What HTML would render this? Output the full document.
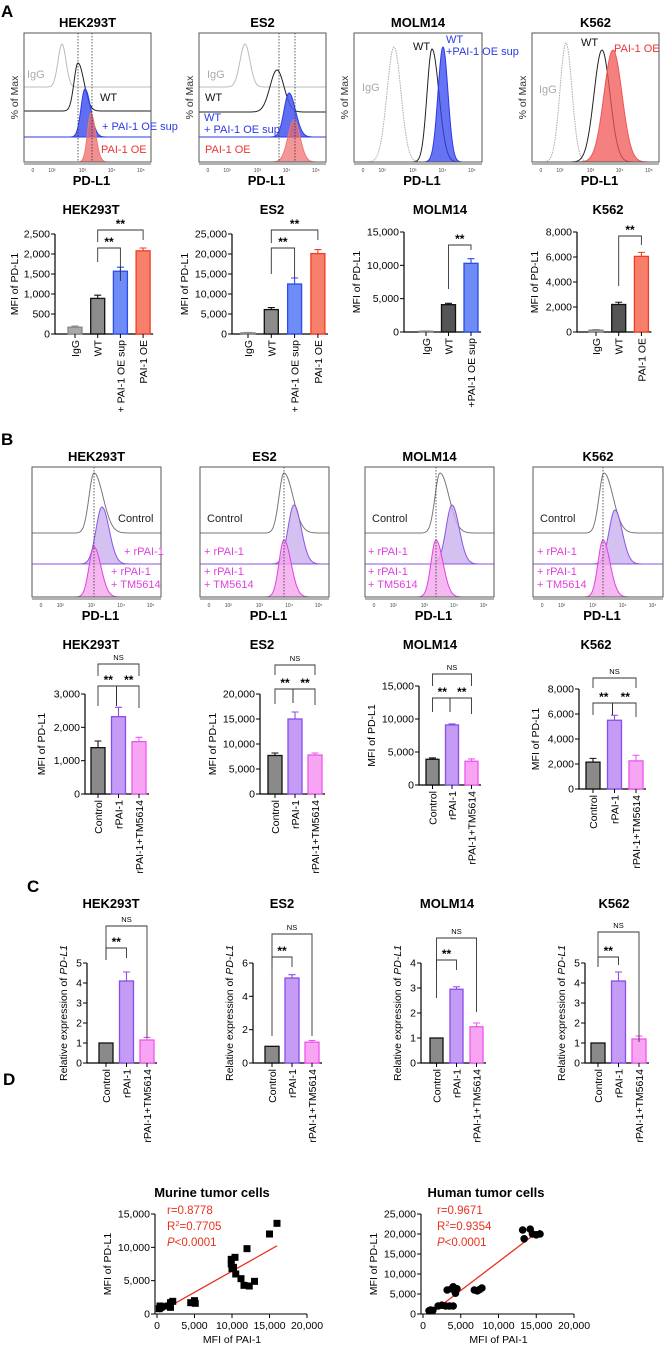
<!DOCTYPE html>
<html><head><meta charset="utf-8"><style>
html,body{margin:0;padding:0;background:#fff}
svg{display:block;font-family:"Liberation Sans",Arial,sans-serif}
</style></head><body>
<svg id="fig" width="666" height="1348" viewBox="0 0 666 1348" xmlns="http://www.w3.org/2000/svg">
<text x="1" y="17" font-size="17" font-weight="bold">A</text>
<text x="1" y="445" font-size="17" font-weight="bold">B</text>
<text x="27" y="892" font-size="17" font-weight="bold">C</text>
<text x="3" y="1085" font-size="17" font-weight="bold">D</text>
</svg>
<script>
// ---------- Panel A bar data ----------
const aHekCats=['IgG','WT','+ PAI-1 OE sup','PAI-1 OE'];
const aHekVals=[170,890,1570,2080];
const aHekErr=[30,80,100,70];
const aHekTicks=[0,500,1000,1500,2000,2500];
const aEs2Cats=['IgG','WT','+ PAI-1 OE sup','PAI-1 OE'];
const aEs2Vals=[300,6100,12500,20100];
const aEs2Err=[100,500,1500,1000];
const aEs2Ticks=[0,5000,10000,15000,20000,25000];
const aMolCats=['IgG','WT','+PAI-1 OE sup'];
const aMolVals=[120,4100,10300];
const aMolErr=[50,200,700];
const aMolTicks=[0,5000,10000,15000];
const aK5Cats=['IgG','WT','PAI-1 OE'];
const aK5Vals=[150,2200,6050];
const aK5Err=[50,180,320];
const aK5Ticks=[0,2000,4000,6000,8000];
// ---------- Panel B bar data ----------
const bCats=['Control','rPAI-1','rPAI-1+TM5614'];
const bHekVals=[1390,2320,1570];
const bHekErr=[200,280,130];
const bHekTicks=[0,1000,2000,3000];
const bEs2Vals=[7700,15000,7800];
const bEs2Err=[500,1400,400];
const bEs2Ticks=[0,5000,10000,15000,20000];
const bMolVals=[3900,9100,3600];
const bMolErr=[200,150,350];
const bMolTicks=[0,5000,10000,15000];
const bK5Vals=[2150,5500,2250];
const bK5Err=[300,400,450];
const bK5Ticks=[0,2000,4000,6000,8000];
// ---------- Panel C bar data ----------
const cHekVals=[1,4.1,1.15];
const cHekErr=[0,0.45,0.13];
const cHekTicks=[0,1,2,3,4,5];
const cEs2Vals=[1,5.1,1.25];
const cEs2Err=[0,0.2,0.1];
const cEs2Ticks=[0,2,4,6];
const cMolVals=[1,2.95,1.45];
const cMolErr=[0,0.1,0.15];
const cMolTicks=[0,1,2,3,4];
const cK5Vals=[1,4.1,1.2];
const cK5Err=[0,0.45,0.15];
const cK5Ticks=[0,1,2,3,4,5];
// ---------- Panel D scatter data ----------
const murX=[300,500,600,400,1500,1800,1800,2100,4500,5000,5100,9900,9900,10000,10200,10400,10500,11200,11600,12000,12300,13000,15000,16000];
const murY=[800,1000,1100,1200,1200,1000,1700,1900,1700,2000,1600,8200,7500,6800,7000,8500,6000,5300,4300,9800,4200,4900,12000,13600];
const humX=[800,1000,1300,2000,2500,3000,3200,3500,3800,4000,4200,4300,4500,4000,6800,7200,7500,7800,13200,13400,14200,14500,15000,15500];
const humY=[800,1000,900,2000,2200,2000,6000,2000,6300,6800,5800,5200,6300,2000,6000,5800,6100,6500,21000,18800,21200,20000,19800,20000];
const dXTicks=[0,5000,10000,15000,20000];
const murYTicks=[0,5000,10000,15000];
const humYTicks=[0,5000,10000,15000,20000,25000];

const NS='http://www.w3.org/2000/svg';
const svg=document.getElementById('fig');
function mk(tag,attrs,parent){const e=document.createElementNS(NS,tag);for(const k in attrs)e.setAttribute(k,attrs[k]);(parent||svg).appendChild(e);return e;}
function fmt(v){return v>=1000?v.toLocaleString('en-US'):String(v);}

const GREYA={f:'#a9a9a9',s:'#888'},WTA={f:'#8c8c8c',s:'#111'},WTD={f:'#555',s:'#111'},BLUE={f:'#6d8cf5',s:'#2d4ce8'},RED={f:'#f7806c',s:'#f23c22'};
const CTRL={f:'#8a8a8a',s:'#111'},RP={f:'#c49cf5',s:'#8a4de6'},TM={f:'#f7a5f2',s:'#ee55ee'};

function barChart(c){
  const g=mk('g',{});
  
  
  const maxT=c.ticks[c.ticks.length-1];
  const y=v=>c.y0-v/maxT*(c.y0-c.yTop);
  const t=mk('text',{x:c.titleX,y:c.titleY,'font-size':13,'font-weight':'bold','text-anchor':'middle'},g);
  t.textContent=c.title;
  
  
  const last=c.bx0+(c.vals.length-1)*c.step+c.bw;
  const ax=mk('path',{d:`M${c.ax},${c.yTop}V${c.y0}H${last+3}`,stroke:'#000','stroke-width':1.2,fill:'none'},g);
  
  
  c.ticks.forEach(v=>{
    mk('line',{x1:c.ax-4,x2:c.ax,y1:y(v),y2:y(v),stroke:'#000','stroke-width':1},g);
    const tl=mk('text',{x:c.ax-5,y:y(v)+3.5,'font-size':10.5,'text-anchor':'end'},g);
    tl.textContent=fmt(v);
    
    
  });
  const yl=mk('text',{transform:`translate(${c.ax-c.ylOff},${(c.y0+c.yTop)/2}) rotate(-90)`,'font-size':10.5,'text-anchor':'middle'},g);
  if(c.italic){yl.innerHTML='Relative expression of <tspan font-style="italic">PD-L1</tspan>';}else{yl.textContent='MFI of  PD-L1';}
  
  
  c.vals.forEach((v,i)=>{
    const x=c.bx0+i*c.step,col=c.cols[i];
    const r=mk('rect',{x:x,y:y(v),width:c.bw,height:c.y0-y(v),fill:col.f,stroke:col.s,'stroke-width':1.3},g);
    
    
    if(c.errs[i]>0){
      const cx=x+c.bw/2;
      const e=mk('path',{d:`M${cx},${y(v)}V${y(v+c.errs[i])}M${cx-3.5},${y(v+c.errs[i])}H${cx+3.5}`,stroke:col.s,'stroke-width':1.1,fill:'none'},g);
      
      
    }
    mk('line',{x1:x+c.bw/2,x2:x+c.bw/2,y1:c.y0,y2:c.y0+4,stroke:'#000'},g);
    const xl=mk('text',{transform:`translate(${x+c.bw/2+4},${c.y0+6}) rotate(-90)`,'font-size':10.5,'text-anchor':'end'},g);
    xl.textContent=c.cats[i];
    
    
  });
  (c.br||[]).forEach(b=>{
    const [i,j,yy,lab,d1,d2]=b;
    const x1=c.bx0+i*c.step+c.bw/2,x2=c.bx0+j*c.step+c.bw/2;
    const p=mk('path',{d:`M${x1+(b[6]||0)},${yy+d1}V${yy}H${x2-(b[7]||0)}V${yy+d2}`,stroke:'#333','stroke-width':0.9,fill:'none'},g);
    
    
    const st=mk('text',{x:(x1+x2)/2,y:lab==='NS'?yy-4:yy-2,'font-size':lab==='NS'?7.5:12,'font-weight':lab==='NS'?'normal':'bold','text-anchor':'middle'},g);
    st.textContent=lab;
    
    
  });
}

// Panel A bars
barChart({name:'bar-chart-a-hek293t',title:'HEK293T',titleX:91,titleY:214,ax:55,y0:334,yTop:234,ticks:aHekTicks,bx0:68,step:22.7,bw:14,cats:aHekCats,vals:aHekVals,errs:aHekErr,cols:[GREYA,WTA,BLUE,RED],ylOff:37,
 br:[[1,2,248,'**',14,33],[1,3,230,'**',12,10]]});
barChart({name:'bar-chart-a-es2',title:'ES2',titleX:272,titleY:214,ax:232,y0:334,yTop:234,ticks:aEs2Ticks,bx0:241,step:23.3,bw:14,cats:aEs2Cats,vals:aEs2Vals,errs:aEs2Err,cols:[GREYA,WTA,BLUE,RED],ylOff:44,
 br:[[1,2,248,'**',26,30],[1,3,230,'**',13,10]]});
barChart({name:'bar-chart-a-molm14',title:'MOLM14',titleX:440,titleY:214,ax:404,y0:332,yTop:232,ticks:aMolTicks,bx0:419,step:22.5,bw:14,cats:aMolCats,vals:aMolVals,errs:aMolErr,cols:[GREYA,WTD,BLUE],ylOff:44,
 br:[[1,2,245,'**',44,5]]});
barChart({name:'bar-chart-a-k562',title:'K562',titleX:608,titleY:214,ax:577,y0:332,yTop:232,ticks:aK5Ticks,bx0:589,step:22.7,bw:14,cats:aK5Cats,vals:aK5Vals,errs:aK5Err,cols:[GREYA,WTD,RED],ylOff:39,
 br:[[1,2,236,'**',50,9]]});
// Panel B bars
barChart({name:'bar-chart-b-hek293t',title:'HEK293T',titleX:91,titleY:649,ax:85,y0:794,yTop:694,ticks:bHekTicks,bx0:91,step:20.5,bw:14,cats:bCats,vals:bHekVals,errs:bHekErr,cols:[CTRL,RP,TM],ylOff:40,
 br:[[0,2,664,'NS',12,12],[0,1,686,'**',20,20,0,2],[1,2,686,'**',20,22,-2,0]]});
barChart({name:'bar-chart-b-es2',title:'ES2',titleX:262,titleY:649,ax:260,y0:794,yTop:694,ticks:bEs2Ticks,bx0:268,step:20,bw:14,cats:bCats,vals:bEs2Vals,errs:bEs2Err,cols:[CTRL,RP,TM],ylOff:44,
 br:[[0,2,665,'NS',10,10],[0,1,689,'**',15,14,0,2],[1,2,689,'**',14,16,-2,0]]});
barChart({name:'bar-chart-b-molm14',title:'MOLM14',titleX:430,titleY:649,ax:419,y0:785,yTop:686,ticks:bMolTicks,bx0:426,step:19.5,bw:13,cats:bCats,vals:bMolVals,errs:bMolErr,cols:[CTRL,RP,TM],ylOff:44,
 br:[[0,2,674,'NS',12,12],[0,1,698,'**',14,14,0,2],[1,2,698,'**',14,16,-2,0]]});
barChart({name:'bar-chart-b-k562',title:'K562',titleX:596,titleY:649,ax:579,y0:789,yTop:689,ticks:bK5Ticks,bx0:586,step:21.5,bw:14,cats:bCats,vals:bK5Vals,errs:bK5Err,cols:[CTRL,RP,TM],ylOff:40,
 br:[[0,2,678,'NS',10,10],[0,1,703,'**',12,12,0,2],[1,2,703,'**',12,14,-2,0]]});
// Panel C bars
barChart({name:'bar-chart-c-hek293t',title:'HEK293T',titleX:111,titleY:908,ax:87,y0:1063,yTop:963,ticks:cHekTicks,bx0:99,step:20.5,bw:14,cats:bCats,vals:cHekVals,errs:cHekErr,cols:[CTRL,RP,TM],ylOff:20,italic:true,
 br:[[0,2,926,'NS',34,112],[0,1,948,'**',12,10]]});
barChart({name:'bar-chart-c-es2',title:'ES2',titleX:282,titleY:908,ax:253,y0:1063,yTop:963,ticks:cEs2Ticks,bx0:265,step:20,bw:14,cats:bCats,vals:cEs2Vals,errs:cEs2Err,cols:[CTRL,RP,TM],ylOff:20,italic:true,
 br:[[0,2,934,'NS',102,102],[0,1,957,'**',12,10]]});
barChart({name:'bar-chart-c-molm14',title:'MOLM14',titleX:447,titleY:908,ax:421,y0:1063,yTop:963,ticks:cMolTicks,bx0:430,step:20,bw:13,cats:bCats,vals:cMolVals,errs:cMolErr,cols:[CTRL,RP,TM],ylOff:20,italic:true,
 br:[[0,2,938,'NS',60,74],[0,1,960,'**',10,10]]});
barChart({name:'bar-chart-c-k562',title:'K562',titleX:614,titleY:908,ax:585,y0:1063,yTop:963,ticks:cK5Ticks,bx0:591,step:20.5,bw:14,cats:bCats,vals:cK5Vals,errs:cK5Err,cols:[CTRL,RP,TM],ylOff:20,italic:true,
 br:[[0,2,932,'NS',34,110],[0,1,957,'**',10,8]]});

// ---------- Histograms ----------
function hist(h){
  const g=mk('g',{});
  
  
  const [x0,y0,x1,y1]=h.box;
  const t=mk('text',{x:(x0+x1)/2,y:y0-6,'font-size':13,'font-weight':'bold','text-anchor':'middle'},g);
  t.textContent=h.title;
  
  
  h.peaks.forEach(p=>{
    let d=`M${x0},${p.base}`;
    for(let x=x0;x<=x1;x+=0.5){
      const s=x<p.c?p.s:p.s*(p.k||1);
      d+=`L${x},${(p.base-(p.base-p.top)*Math.exp(-((x-p.c)**2)/(2*s*s))).toFixed(2)}`;
    }
    const pa=mk('path',{d:d+(p.fill?`L${x1},${p.base}Z`:''),fill:p.fill||'none','fill-opacity':p.op||1,stroke:p.col,'stroke-width':1,'stroke-dasharray':p.dash||'none'},g);
    
    
  });
  (h.vl||[]).forEach(x=>mk('line',{x1:x,x2:x,y1:y0,y2:y1,stroke:'#333','stroke-width':0.8,'stroke-dasharray':'1.5,1.5'},g));
  const b=mk('rect',{x:x0,y:y0,width:x1-x0,height:y1-y0,fill:'none',stroke:'#555','stroke-width':1},g);
  
  
  mk('line',{x1:x0,x2:x1,y1:y1+2,y2:y1+2,stroke:'#333','stroke-width':0.8},g);
  const tl=['0','10²','10³','10⁴','10⁵'],tp=[0.07,0.22,0.46,0.69,0.92];
  tl.forEach((s,i)=>{const tx=mk('text',{x:x0+tp[i]*(x1-x0),y:y1+10,'font-size':5,fill:'#444','text-anchor':'middle'},g);tx.textContent=s;});
  const xt=mk('text',{x:(x0+x1)/2+4,y:y1+23,'font-size':13,'font-weight':'bold','text-anchor':'middle'},g);
  xt.textContent='PD-L1';
  
  
  if(h.ylab){const yt=mk('text',{transform:`translate(${x0-6},${(y0+y1)/2}) rotate(-90)`,'font-size':10.5,fill:'#333','text-anchor':'middle'},g);yt.textContent='% of Max';
    
    }
  h.labels.forEach(l=>{const lt=mk('text',{x:l[0],y:l[1],'font-size':11,fill:l[3]},g);lt.textContent=l[2];
    
    });
}
const G='#bbb',K='#222',BL='#2a3ae8',RD='#ee3333',PU='#8a55dd',MG='#e040e0';
hist({name:'histogram-a-hek293t',title:'HEK293T',box:[24,33,151,162],ylab:1,vl:[78,92],peaks:[
 {base:87,c:62,s:4,top:44,col:G},{base:111,c:78,s:4,k:1.5,top:63,col:K},
 {base:137,c:85,s:4,k:1.4,top:89,col:BL,fill:'#4455ee',op:0.85},{base:162,c:91,s:3.5,k:1.3,top:113,col:'#ee7777',fill:'#f06a6a',op:0.75}],
 labels:[[27,78,'IgG','#aaa'],[100,101,'WT','#111'],[102,130,'+ PAI-1 OE sup',BL],[101,153,'PAI-1 OE',RD]]});
hist({name:'histogram-a-es2',title:'ES2',box:[199,33,326,162],ylab:1,vl:[279,295],peaks:[
 {base:87,c:245,s:5,top:44,col:G},{base:112,c:277,s:7,top:70,col:K},
 {base:137,c:289,s:5,k:1.3,top:93,col:BL,fill:'#4455ee',op:0.85},{base:162,c:294,s:6,top:120,col:'#ee7777',fill:'#f06a6a',op:0.7}],
 labels:[[207,78,'IgG','#aaa'],[205,101,'WT','#111'],[204,121,'WT',BL],[204,133,'+ PAI-1 OE sup',BL],[205,153,'PAI-1 OE',RD]]});
hist({name:'histogram-a-molm14',title:'MOLM14',box:[354,33,482,162],ylab:1,peaks:[
 {base:162,c:394,s:7,top:47,col:'#aaa',dash:'1.5,1'},{base:162,c:432,s:5,k:1.4,top:49,col:K},
 {base:162,c:443,s:5,top:47,col:BL,fill:'#3344ee',op:0.75}],
 labels:[[362,91,'IgG','#aaa'],[413,50,'WT','#111'],[446,43,'WT',BL],[446,55,'+PAI-1 OE sup',BL]]});
hist({name:'histogram-a-k562',title:'K562',box:[532,33,659,162],ylab:1,peaks:[
 {base:162,c:566,s:6,top:43,col:'#aaa',dash:'1.5,1'},{base:162,c:602,s:8,top:50,col:K},
 {base:162,c:613,s:9,top:50,col:'#ee5555',fill:'#f25555',op:0.75}],
 labels:[[539,93,'IgG','#aaa'],[581,46,'WT','#111'],[614,52,'PAI-1 OE',RD]]});
const bl=(x)=>[[x[0],522,'Control','#222'],[x[1],555,'+ rPAI-1',MG],[x[2],575,'+ rPAI-1',MG],[x[2],588,'+ TM5614',MG]];
[['histogram-b-hek293t','HEK293T',32,161,94,102,94,473,507,547,[118,124,111]],
 ['histogram-b-es2','ES2',200,329,284,294,284,473,505,540,[207,204,204]],
 ['histogram-b-molm14','MOLM14',365,494,440,452,436,473,505,540,[372,368,368]],
 ['histogram-b-k562','K562',533,663,604,615,603,473,510,540,[540,537,537]]].forEach(r=>{
  hist({name:r[0],title:r[1],box:[r[2],467,r[3],597],vl:[r[6]],peaks:[
   {base:533,c:r[4],s:5,k:1.8,top:r[7],col:'#777'},
   {base:564,c:r[5],s:6,k:1.2,top:r[8],col:PU,fill:'#c9b2ef',op:0.8},
   {base:597,c:r[6],s:5,k:1.4,top:r[9],col:MG,fill:'#f4a6ee',op:0.8}],labels:bl(r[10])});
});

// ---------- Scatter ----------
function scatter(c){
  const g=mk('g',{});
  
  
  const yMax=c.yt[c.yt.length-1],xMax=dXTicks[dXTicks.length-1];
  const X=v=>c.x0+v/xMax*(c.x1-c.x0),Y=v=>c.y0-v/yMax*(c.y0-c.yTop);
  const t=mk('text',{x:c.tx,y:1197,'font-size':13,'font-weight':'bold','text-anchor':'middle'},g);
  t.textContent=c.title;
  
  
  const ax=mk('path',{d:`M${c.ax},${c.yTop}V${c.y0}H${c.x1}`,stroke:'#000','stroke-width':1.1,fill:'none'},g);
  
  
  c.yt.forEach(v=>{mk('line',{x1:c.ax-4,x2:c.ax,y1:Y(v),y2:Y(v),stroke:'#000'},g);
    const l=mk('text',{x:c.ax-5,y:Y(v)+3.5,'font-size':10.5,'text-anchor':'end'},g);l.textContent=fmt(v);
    
    });
  dXTicks.forEach(v=>{mk('line',{x1:X(v),x2:X(v),y1:c.y0,y2:c.y0+4,stroke:'#000'},g);
    const l=mk('text',{x:X(v),y:c.y0+15,'font-size':10.5,'text-anchor':'middle'},g);l.textContent=fmt(v);
    
    });
  const xl=mk('text',{x:(c.x0+c.x1)/2,y:1343,'font-size':10.5,'text-anchor':'middle'},g);xl.textContent='MFI of PAI-1';
  
  
  const yl=mk('text',{transform:`translate(${c.ax-44},${(c.y0+c.yTop)/2}) rotate(-90)`,'font-size':10.5,'text-anchor':'middle'},g);yl.textContent='MFI of  PD-L1';
  
  
  const n=c.xs.length,mx=c.xs.reduce((a,b)=>a+b)/n,my=c.ys.reduce((a,b)=>a+b)/n;
  let sxy=0,sxx=0;c.xs.forEach((x,i)=>{sxy+=(x-mx)*(c.ys[i]-my);sxx+=(x-mx)**2;});
  const sl=sxy/sxx,ic=my-sl*mx;
  const xa=Math.max(Math.min(...c.xs),-ic/sl>0?-ic/sl:0),xb=Math.max(...c.xs);
  const ln=mk('line',{x1:X(xa),y1:Y(sl*xa+ic),x2:X(xb),y2:Y(sl*xb+ic),stroke:'#e8321e','stroke-width':1.3},g);
  
  
  c.xs.forEach((x,i)=>{
    let m;
    if(c.sq){m=mk('rect',{x:X(x)-3.5,y:Y(c.ys[i])-3.5,width:7,height:7,fill:'#000'},g);}
    else{m=mk('circle',{cx:X(x),cy:Y(c.ys[i]),r:3.8,fill:'#000'},g);}
    
    
  });
  const st=mk('text',{x:c.sx,y:1214,'font-size':11.5,fill:'#e8321e'},g);
  st.innerHTML=`<tspan x="${c.sx}">r=${c.r}</tspan><tspan x="${c.sx}" dy="16">R<tspan dy="-4" font-size="7.5">2</tspan><tspan dy="4">=${c.r2}</tspan></tspan><tspan x="${c.sx}" dy="16"><tspan font-style="italic">P</tspan>&lt;0.0001</tspan>`;
  
  
}
scatter({name:'scatter-murine',title:'Murine tumor cells',tx:212,ax:155,x0:157,x1:307,y0:1314,yTop:1214,yt:murYTicks,xs:murX,ys:murY,sq:true,sx:167,r:'0.8778',r2:'0.7705'});
scatter({name:'scatter-human',title:'Human tumor cells',tx:486,ax:421,x0:423,x1:574,y0:1314,yTop:1214,yt:humYTicks,xs:humX,ys:humY,sq:false,sx:437,r:'0.9671',r2:'0.9354'});
</script>
</body></html>
